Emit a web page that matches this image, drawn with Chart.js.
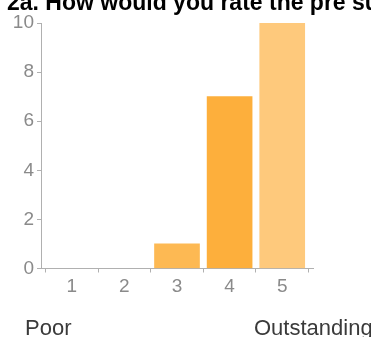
<!DOCTYPE html>
<html>
<head>
<meta charset="utf-8">
<script src="https://cdn.jsdelivr.net/npm/chart.js@4/dist/chart.umd.min.js"></script>
<style>
  html, body { margin:0; padding:0; background:#fff; overflow:hidden; }
  #wrap { position:relative; width:371px; height:337px; overflow:hidden; }
  #c { position:absolute; left:0; top:0; }
  .t { position:absolute; white-space:nowrap; font-family:"Liberation Sans", Arial, sans-serif; line-height:22px; font-size:22px; }
  #title { left:7px; top:-9px; font-weight:bold; color:#000; font-size:23px; }
  #poor { left:25px; top:317px; color:#3a3a3a; }
  #out { left:254px; top:317px; color:#3a3a3a; }
</style>
</head>
<body>
<div id="wrap">
  <canvas id="c" width="371" height="337"></canvas>
  <div class="t" id="title">2a. How would you rate the pre survey?</div>
  <div class="t" id="poor">Poor</div>
  <div class="t" id="out">Outstanding</div>
</div>
<script>
const categories = [1, 2, 3, 4, 5];
const counts = [0, 0, 1, 7, 10];
const yTicks = [0, 2, 4, 6, 8, 10];
const barColors = ['#FDB953', '#FDB953', '#FDB953', '#FDAF3C', '#FEC97C'];

const axisColor = '#b0b0b0';
const labelColor = '#8a8a8a';

new Chart(document.getElementById('c'), {
  type: 'bar',
  data: {
    datasets: [{
      data: categories.map((c, i) => ({ x: c, y: counts[i] })),
      backgroundColor: ctx => (ctx.raw && ctx.raw.y === 0) ? 'rgba(0,0,0,0)' : barColors[ctx.dataIndex],
      borderWidth: 0,
      barThickness: 45
    }]
  },
  options: {
    responsive: false,
    animation: false,
    layout: { padding: { top: 23, right: 58, bottom: 0, left: 0 } },
    plugins: { legend: { display: false }, tooltip: { enabled: false }, title: { display: false } },
    scales: {
      x: {
        type: 'linear',
        min: 0.415,
        max: 5.585,
        offset: false,
        afterBuildTicks: s => { s.ticks = categories.map(v => ({ value: v })); },
        afterFit: s => { s.height = 337 - 268.5; },
        grid: { drawOnChartArea: false, drawTicks: true, tickLength: 4, tickColor: axisColor, tickWidth: 1 },
        border: { display: true, color: axisColor, width: 1 },
        ticks: { color: labelColor, font: { family: 'Liberation Sans', size: 19 }, padding: 3, autoSkip: false, maxRotation: 0 }
      },
      y: {
        min: 0,
        max: 10,
        afterBuildTicks: s => { s.ticks = yTicks.map(v => ({ value: v })); },
        afterFit: s => { s.width = 41; },
        grid: { drawOnChartArea: false, drawTicks: true, tickLength: 4, tickColor: axisColor, tickWidth: 1 },
        border: { display: true, color: axisColor, width: 1 },
        ticks: { color: labelColor, font: { family: 'Liberation Sans', size: 19 }, padding: 3 }
      }
    }
  }
});
</script>
</body>
</html>
